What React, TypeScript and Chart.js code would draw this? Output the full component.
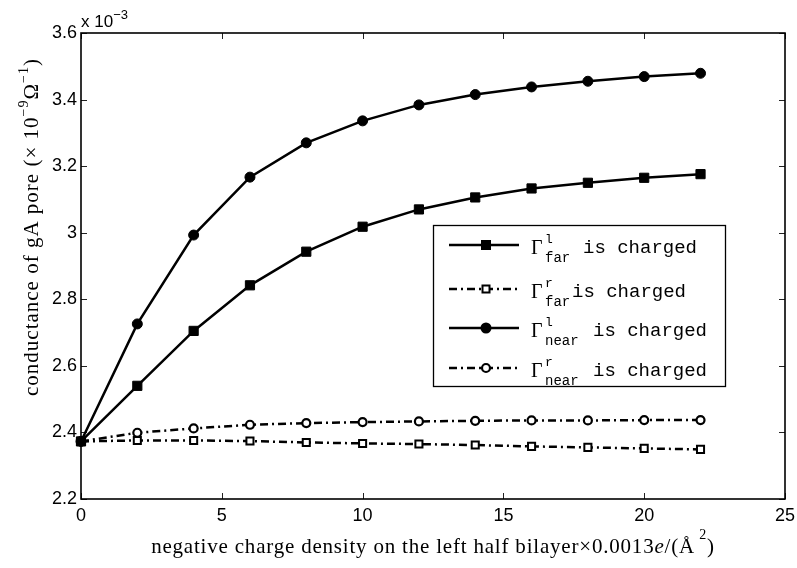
import React, { useEffect, useRef } from 'react';
import { Chart, registerables } from 'chart.js';

Chart.register(...registerables);

// ---- data ----
const xValues = [0, 2, 4, 6, 8, 10, 12, 14, 16, 18, 20, 22];
const farLeft = [2.373, 2.540, 2.705, 2.842, 2.943, 3.018, 3.070, 3.106, 3.133, 3.150, 3.165, 3.176];
const farRight = [2.373, 2.376, 2.376, 2.374, 2.370, 2.367, 2.365, 2.362, 2.358, 2.355, 2.352, 2.349];
const nearLeft = [2.373, 2.726, 2.993, 3.167, 3.270, 3.336, 3.384, 3.415, 3.438, 3.455, 3.469, 3.479];
const nearRight = [2.373, 2.399, 2.412, 2.423, 2.428, 2.431, 2.433, 2.435, 2.436, 2.436, 2.437, 2.437];
const xTicks = [0, 5, 10, 15, 20, 25];
const yTicks = [2.2, 2.4, 2.6, 2.8, 3.0, 3.2, 3.4, 3.6];
const legendSup = ['l', 'r', 'l', 'r'];
const legendSub = ['far', 'far', 'near', 'near'];
const legendText = 'is charged';
const yTitleMain = 'conductance of gA pore (\u00d7 10';
const xTitleMain = 'negative charge density on the left half bilayer\u00d70.0013';
const multiplierText = 'x 10';
const multiplierExp = '\u22123';

const SERIF = '"Liberation Serif", "Times New Roman", serif';
const SANS = '"Liberation Sans", Arial, sans-serif';
const MONO = '"Liberation Mono", "Courier New", monospace';

const SOLID: number[] = [];
const DASHDOT = [8, 4, 2, 4];

type Part = { t: string; font: string; dy?: number };

function drawParts(ctx: CanvasRenderingContext2D, x: number, y: number, parts: Part[]) {
  let cx = x;
  for (const p of parts) {
    ctx.font = p.font;
    ctx.fillText(p.t, cx, y + (p.dy || 0));
    cx += ctx.measureText(p.t).width;
  }
}
function partsWidth(ctx: CanvasRenderingContext2D, parts: Part[]) {
  let w = 0;
  for (const p of parts) {
    ctx.font = p.font;
    w += ctx.measureText(p.t).width;
  }
  return w;
}

function drawMarker(ctx: CanvasRenderingContext2D, kind: number, x: number, y: number) {
  ctx.save();
  ctx.setLineDash([]);
  ctx.strokeStyle = '#000';
  if (kind === 0) {
    ctx.fillStyle = '#000';
    ctx.fillRect(x - 5, y - 5, 10, 10);
  } else if (kind === 1) {
    ctx.fillStyle = '#fff';
    ctx.lineWidth = 2;
    ctx.fillRect(x - 3.5, y - 3.5, 7, 7);
    ctx.strokeRect(x - 3.5, y - 3.5, 7, 7);
  } else if (kind === 2) {
    ctx.fillStyle = '#000';
    ctx.beginPath();
    ctx.arc(x, y, 5.5, 0, Math.PI * 2);
    ctx.fill();
  } else {
    ctx.fillStyle = '#fff';
    ctx.lineWidth = 2.2;
    ctx.beginPath();
    ctx.arc(x, y, 4, 0, Math.PI * 2);
    ctx.fill();
    ctx.stroke();
  }
  ctx.restore();
}

const framePlugin = {
  id: 'matlabFrame',
  beforeDatasetsDraw(chart: any) {
    const { ctx, chartArea: a, scales } = chart;
    ctx.save();
    ctx.strokeStyle = '#222';
    ctx.lineWidth = 1;
    ctx.beginPath();
    for (const v of xTicks) {
      const px = Math.round(scales.x.getPixelForValue(v)) + 0.5;
      ctx.moveTo(px, a.bottom);
      ctx.lineTo(px, a.bottom - 6);
      ctx.moveTo(px, a.top);
      ctx.lineTo(px, a.top + 6);
    }
    for (const v of yTicks) {
      const py = Math.round(scales.y.getPixelForValue(v)) + 0.5;
      ctx.moveTo(a.left, py);
      ctx.lineTo(a.left + 6, py);
      ctx.moveTo(a.right, py);
      ctx.lineTo(a.right - 6, py);
    }
    ctx.stroke();
    ctx.strokeStyle = '#000';
    ctx.lineWidth = 1.6;
    ctx.strokeRect(a.left, a.top, a.right - a.left, a.bottom - a.top);
    ctx.restore();
  },
  afterDraw(chart: any) {
    const { ctx, chartArea: a } = chart;
    ctx.save();
    ctx.fillStyle = '#000';
    ctx.textAlign = 'left';
    ctx.textBaseline = 'alphabetic';

    // exponent multiplier
    drawParts(ctx, a.left, 27, [
      { t: multiplierText, font: `17px ${SANS}` },
      { t: multiplierExp, font: `13px ${SANS}`, dy: -8 },
    ]);

    // x title
    (ctx as any).letterSpacing = '0.8px';
    const xParts: Part[] = [
      { t: xTitleMain, font: `21px ${SERIF}` },
      { t: 'e', font: `italic 21px ${SERIF}` },
      { t: '/(', font: `21px ${SERIF}` },
      { t: '\u00c5', font: `21px ${SERIF}` },
      { t: ' 2', font: `14px ${SERIF}`, dy: -14 },
      { t: ')', font: `21px ${SERIF}` },
    ];
    const xw = partsWidth(ctx, xParts);
    drawParts(ctx, (a.left + a.right) / 2 - xw / 2, 553, xParts);

    // y title
    (ctx as any).letterSpacing = '1px';
    ctx.save();
    ctx.translate(38, 396);
    ctx.rotate(-Math.PI / 2);
    drawParts(ctx, 0, 0, [
      { t: yTitleMain, font: `21px ${SERIF}` },
      { t: '\u22129', font: `14px ${SERIF}`, dy: -10 },
      { t: '\u03a9', font: `21px ${SERIF}` },
      { t: '\u22121', font: `14px ${SERIF}`, dy: -10 },
      { t: ')', font: `21px ${SERIF}` },
    ]);
    ctx.restore();
    (ctx as any).letterSpacing = '0px';

    // legend
    const bx = 433, by = 225, bw = 292, bh = 161;
    ctx.fillStyle = '#fff';
    ctx.fillRect(bx, by, bw, bh);
    ctx.strokeStyle = '#000';
    ctx.lineWidth = 1.3;
    ctx.strokeRect(bx + 0.5, by + 0.5, bw, bh);
    const rowY = [245, 289, 328, 368];
    const textX = [583, 572, 593, 593];
    for (let i = 0; i < 4; i++) {
      const ly = rowY[i];
      ctx.save();
      ctx.strokeStyle = '#000';
      ctx.lineWidth = 2.5;
      ctx.setLineDash(i % 2 === 0 ? SOLID : DASHDOT);
      ctx.beginPath();
      ctx.moveTo(449, ly);
      ctx.lineTo(519, ly);
      ctx.stroke();
      ctx.restore();
      drawMarker(ctx, i, 486, ly);
      ctx.fillStyle = '#000';
      ctx.font = `20px ${SERIF}`;
      ctx.fillText('\u0393', 531, ly + 9);
      ctx.font = `13px ${MONO}`;
      ctx.fillText(legendSup[i], 545, ly - 2);
      ctx.font = `14px ${MONO}`;
      ctx.fillText(legendSub[i], 545, ly + 17);
      ctx.font = `19px ${MONO}`;
      ctx.fillText(legendText, textX[i], ly + 8);
    }
    ctx.restore();
  },
};

const toPts = (ys: number[]) => xValues.map((x, i) => ({ x, y: ys[i] }));

export default function App() {
  const ref = useRef<HTMLCanvasElement>(null);
  useEffect(() => {
    if (!ref.current) return;
    const base = {
      borderColor: '#000',
      borderWidth: 2.5,
      pointBorderColor: '#000',
      tension: 0,
      clip: false as any,
    };
    const chart = new Chart(ref.current, {
      type: 'line',
      data: {
        datasets: [
          {
            ...base,
            label: 'far l',
            data: toPts(farLeft),
            pointStyle: 'rect',
            pointRadius: 6.5,
            pointBackgroundColor: '#000',
            pointBorderWidth: 1,
          },
          {
            ...base,
            label: 'far r',
            data: toPts(farRight),
            borderDash: DASHDOT,
            pointStyle: 'rect',
            pointRadius: 5,
            pointBackgroundColor: '#fff',
            pointBorderWidth: 2,
          },
          {
            ...base,
            label: 'near l',
            data: toPts(nearLeft),
            pointStyle: 'circle',
            pointRadius: 5,
            pointBackgroundColor: '#000',
            pointBorderWidth: 1,
          },
          {
            ...base,
            label: 'near r',
            data: toPts(nearRight),
            borderDash: DASHDOT,
            pointStyle: 'circle',
            pointRadius: 4,
            pointBackgroundColor: '#fff',
            pointBorderWidth: 2.2,
          },
        ],
      },
      options: {
        responsive: false,
        animation: false,
        layout: { padding: { top: 33, right: 12, left: 0, bottom: 0 } },
        plugins: { legend: { display: false }, tooltip: { enabled: false } },
        scales: {
          x: {
            type: 'linear',
            min: 0,
            max: 25,
            border: { display: false },
            grid: { display: false, drawTicks: false },
            afterBuildTicks: (s: any) => {
              s.ticks = xTicks.map((v) => ({ value: v }));
            },
            afterFit: (s: any) => {
              s.height = 69;
              s.paddingLeft = 0;
              s.paddingRight = 0;
            },
            ticks: {
              color: '#000',
              padding: 6,
              maxRotation: 0,
              font: { family: SANS, size: 18 },
              callback: (v: any) => String(v),
            },
          },
          y: {
            type: 'linear',
            min: 2.2,
            max: 3.6,
            border: { display: false },
            grid: { display: false, drawTicks: false },
            afterBuildTicks: (s: any) => {
              s.ticks = yTicks.map((v) => ({ value: v }));
            },
            afterFit: (s: any) => {
              s.width = 81;
              s.paddingTop = 0;
              s.paddingBottom = 0;
            },
            ticks: {
              color: '#000',
              padding: 4,
              font: { family: SANS, size: 18 },
              callback: (v: any) => String(parseFloat(Number(v).toFixed(1))),
            },
          },
        },
      },
      plugins: [framePlugin],
    });
    return () => chart.destroy();
  }, []);
  return (
    <div style={{ position: 'absolute', left: 0, top: 0, width: 797, height: 568, background: '#fff' }}>
      <canvas ref={ref} width={797} height={568} style={{ display: 'block' }} />
    </div>
  );
}
